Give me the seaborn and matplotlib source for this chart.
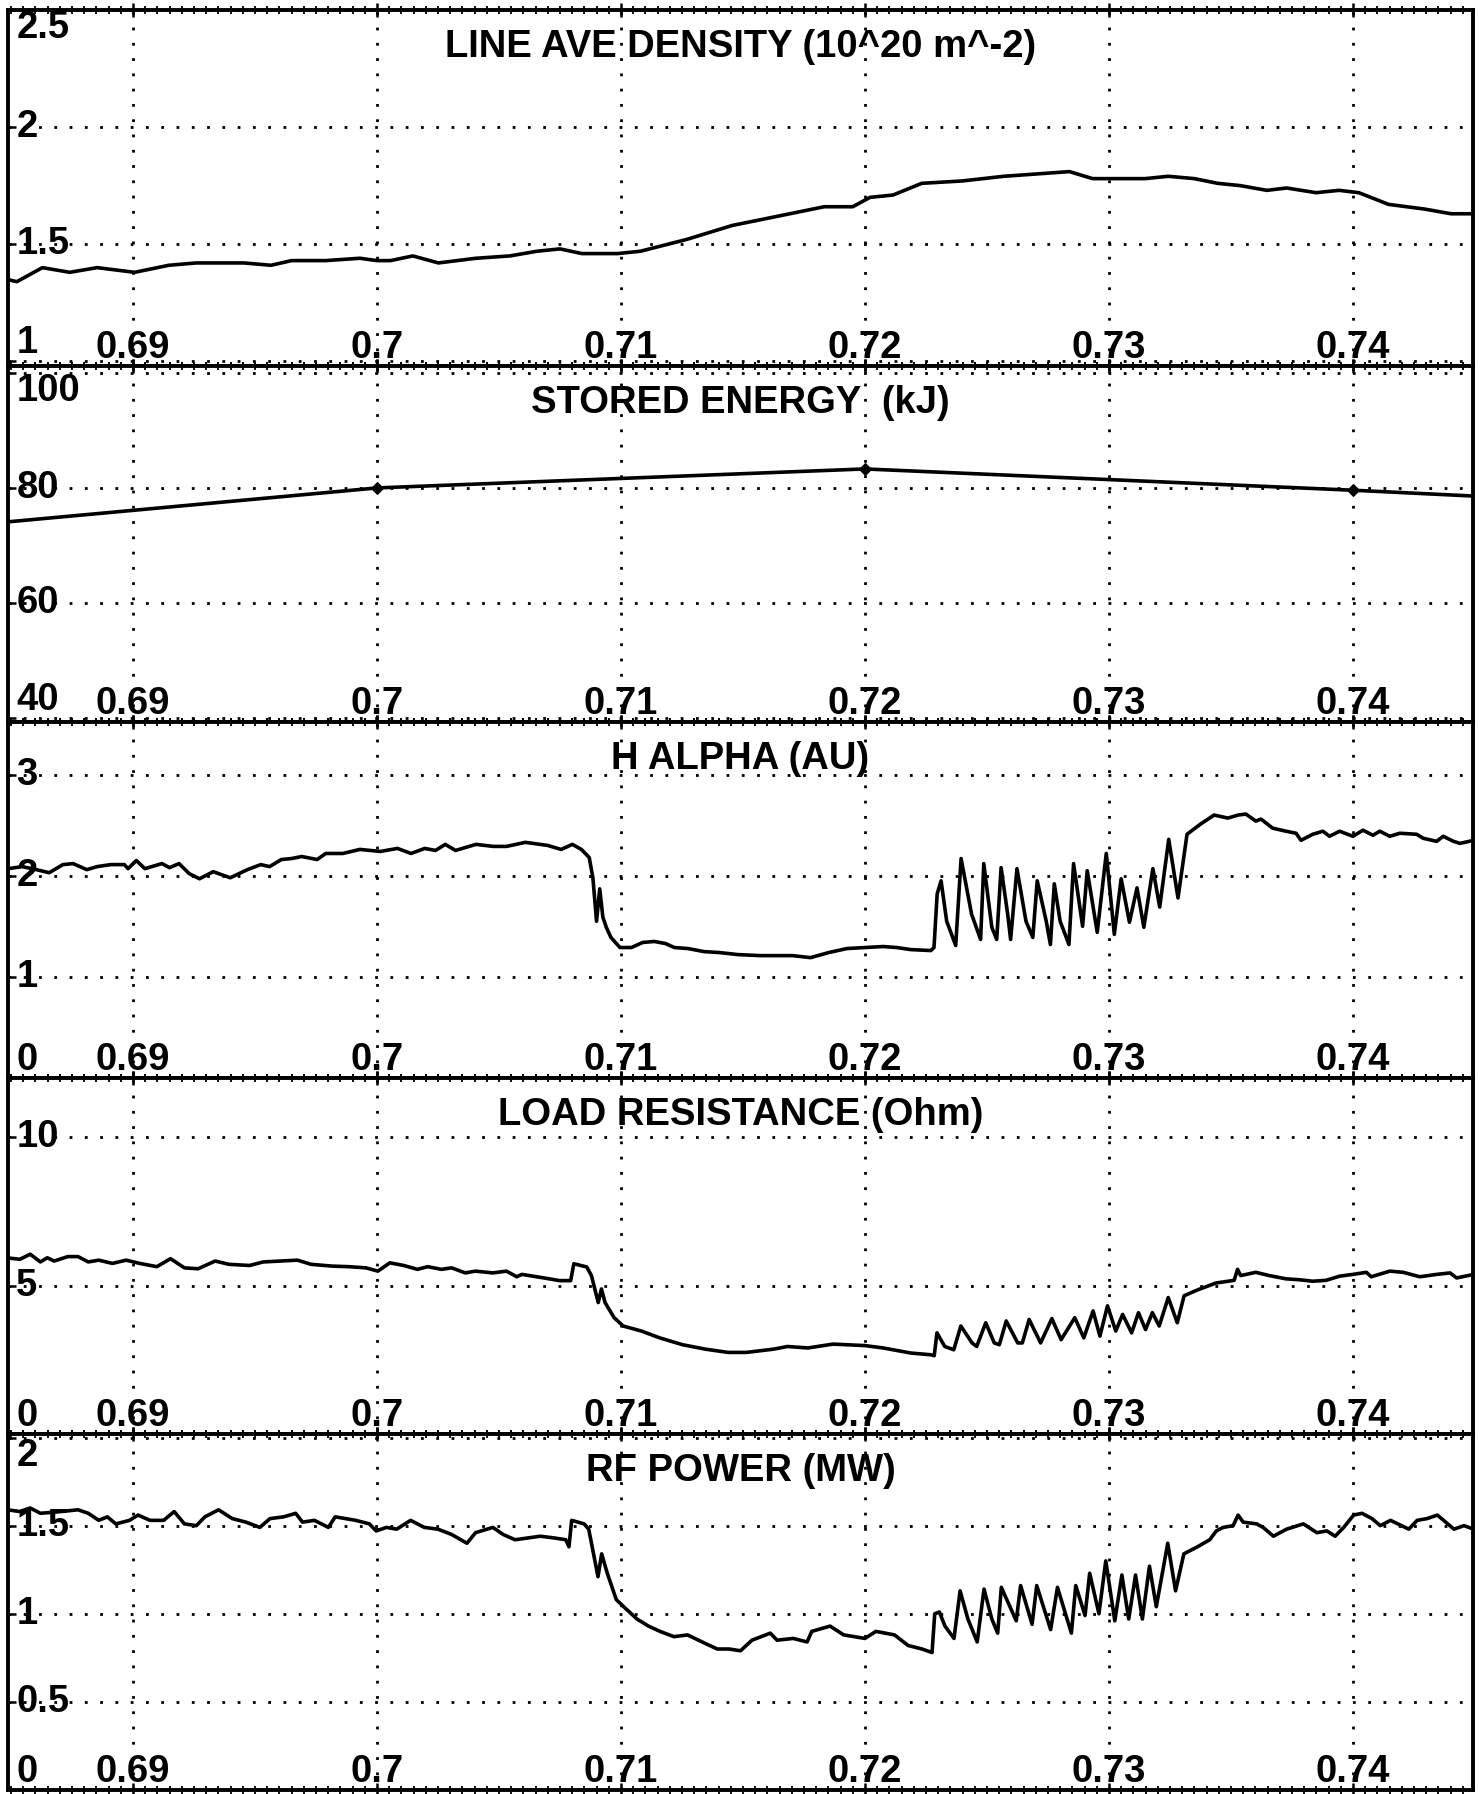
import matplotlib
matplotlib.use("Agg")
import matplotlib.pyplot as plt
import numpy as np
import pandas as pd
import seaborn as sns
from matplotlib.ticker import MultipleLocator

# ---------------- data ----------------
x_ticks = [0.69, 0.70, 0.71, 0.72, 0.73, 0.74]
x_tick_labels = ["0.69", "0.7", "0.71", "0.72", "0.73", "0.74"]

density_t = [0.68483, 0.68524, 0.68629, 0.68741, 0.68853, 0.69007, 0.69147, 0.69259,
             0.69455, 0.69566, 0.69650, 0.69790, 0.69930, 0.70000, 0.70056, 0.70147,
             0.70252, 0.70406, 0.70545, 0.70656, 0.70750, 0.70840, 0.70986, 0.71080,
             0.71268, 0.71456, 0.71645, 0.71833, 0.71950, 0.72021, 0.72115, 0.72233,
             0.72398, 0.72569, 0.72704, 0.72838, 0.72933, 0.73013, 0.73148, 0.73243,
             0.73350, 0.73445, 0.73539, 0.73647, 0.73728, 0.73849, 0.73943, 0.74024,
             0.74146, 0.74294, 0.74402, 0.74495]
density_v = [1.35, 1.34, 1.40, 1.38, 1.40, 1.38, 1.41, 1.42,
             1.42, 1.41, 1.43, 1.43, 1.44, 1.43, 1.43, 1.45,
             1.42, 1.44, 1.45, 1.47, 1.48, 1.46, 1.46, 1.47,
             1.52, 1.58, 1.62, 1.66, 1.66, 1.70, 1.71, 1.76,
             1.77, 1.79, 1.80, 1.81, 1.78, 1.78, 1.78, 1.79,
             1.78, 1.76, 1.75, 1.73, 1.74, 1.72, 1.73, 1.72,
             1.67, 1.65, 1.63, 1.63]

energy_t = [0.68, 0.70, 0.72, 0.74, 0.76]
energy_v = [72.2, 80.0, 83.3, 79.6, 75.5]

halpha_t = [0.68490, 0.68545, 0.68587, 0.68657, 0.68713, 0.68755, 0.68811, 0.68853,
            0.68909, 0.68965, 0.68980, 0.69014, 0.69049, 0.69119, 0.69150, 0.69189,
            0.69231, 0.69273, 0.69329, 0.69399, 0.69469, 0.69524, 0.69560, 0.69608,
            0.69650, 0.69692, 0.69755, 0.69790, 0.69860, 0.69930, 0.69970, 0.70014,
            0.70084, 0.70140, 0.70196, 0.70240, 0.70280, 0.70322, 0.70406, 0.70476,
            0.70531, 0.70608, 0.70699, 0.70755, 0.70801, 0.70838, 0.70870, 0.70885,
            0.70900, 0.70913, 0.70926, 0.70940, 0.70959, 0.70996, 0.71043, 0.71089,
            0.71136, 0.71182, 0.71219, 0.71275, 0.71340, 0.71405, 0.71480, 0.71572,
            0.71703, 0.71777, 0.71851, 0.71926, 0.72000, 0.72074, 0.72130, 0.72186,
            0.72270, 0.72283, 0.72296, 0.72312, 0.72335, 0.72372, 0.72394, 0.72437,
            0.72474, 0.72487, 0.72520, 0.72540, 0.72558, 0.72585, 0.72597, 0.72623,
            0.72660, 0.72688, 0.72706, 0.72743, 0.72760, 0.72776, 0.72800, 0.72836,
            0.72855, 0.72892, 0.72911, 0.72952, 0.72989, 0.73022, 0.73050, 0.73084,
            0.73115, 0.73143, 0.73180, 0.73208, 0.73245, 0.73283, 0.73320, 0.73375,
            0.73431, 0.73487, 0.73530, 0.73561, 0.73602, 0.73623, 0.73671, 0.73726,
            0.73767, 0.73787, 0.73835, 0.73877, 0.73904, 0.73945, 0.74000, 0.74041,
            0.74082, 0.74110, 0.74151, 0.74192, 0.74261, 0.74288, 0.74343, 0.74370,
            0.74412, 0.74439, 0.74495]
halpha_v = [2.07, 2.09, 2.07, 2.03, 2.11, 2.12, 2.06, 2.09,
            2.11, 2.11, 2.07, 2.15, 2.07, 2.12, 2.08, 2.12,
            2.02, 1.97, 2.04, 1.98, 2.06, 2.11, 2.09, 2.16,
            2.17, 2.19, 2.16, 2.22, 2.22, 2.26, 2.25, 2.24,
            2.27, 2.22, 2.27, 2.25, 2.31, 2.25, 2.31, 2.29,
            2.29, 2.33, 2.30, 2.26, 2.31, 2.26, 2.18, 1.98,
            1.55, 1.87, 1.59, 1.49, 1.39, 1.29, 1.29, 1.34,
            1.35, 1.33, 1.29, 1.28, 1.25, 1.24, 1.22, 1.21,
            1.21, 1.19, 1.24, 1.28, 1.29, 1.30, 1.29, 1.27,
            1.26, 1.29, 1.82, 1.95, 1.55, 1.31, 2.17, 1.62,
            1.37, 2.12, 1.49, 1.37, 2.08, 1.62, 1.37, 2.07,
            1.55, 1.39, 1.95, 1.55, 1.32, 1.92, 1.55, 1.32,
            2.12, 1.50, 2.05, 1.44, 2.22, 1.42, 1.97, 1.54,
            1.88, 1.49, 2.07, 1.69, 2.36, 1.78, 2.41, 2.51,
            2.60, 2.57, 2.60, 2.61, 2.54, 2.56, 2.47, 2.44,
            2.42, 2.35, 2.41, 2.44, 2.39, 2.44, 2.39, 2.45,
            2.40, 2.44, 2.39, 2.42, 2.41, 2.37, 2.34, 2.39,
            2.34, 2.32, 2.35]

load_t = [0.68480, 0.68537, 0.68579, 0.68621, 0.68649, 0.68677, 0.68733, 0.68775,
          0.68817, 0.68860, 0.68916, 0.68972, 0.69028, 0.69098, 0.69154, 0.69211,
          0.69267, 0.69337, 0.69393, 0.69478, 0.69534, 0.69604, 0.69674, 0.69730,
          0.69815, 0.69885, 0.69955, 0.70004, 0.70053, 0.70110, 0.70166, 0.70208,
          0.70264, 0.70306, 0.70362, 0.70404, 0.70475, 0.70531, 0.70573, 0.70594,
          0.70692, 0.70748, 0.70794, 0.70807, 0.70860, 0.70879, 0.70907, 0.70920,
          0.70935, 0.70972, 0.71009, 0.71084, 0.71159, 0.71252, 0.71346, 0.71439,
          0.71514, 0.71626, 0.71682, 0.71766, 0.71869, 0.72000, 0.72075, 0.72187,
          0.72271, 0.72284, 0.72295, 0.72327, 0.72364, 0.72393, 0.72439, 0.72458,
          0.72495, 0.72530, 0.72551, 0.72579, 0.72626, 0.72645, 0.72673, 0.72720,
          0.72766, 0.72804, 0.72860, 0.72897, 0.72935, 0.72963, 0.72994, 0.73028,
          0.73056, 0.73093, 0.73121, 0.73150, 0.73178, 0.73206, 0.73243, 0.73280,
          0.73308, 0.73364, 0.73439, 0.73513, 0.73527, 0.73540, 0.73602, 0.73657,
          0.73726, 0.73780, 0.73835, 0.73890, 0.73945, 0.74000, 0.74055, 0.74075,
          0.74151, 0.74206, 0.74274, 0.74343, 0.74398, 0.74425, 0.74495]
load_v = [5.94, 5.89, 6.06, 5.80, 5.94, 5.83, 5.98, 5.98,
          5.80, 5.86, 5.75, 5.86, 5.75, 5.64, 5.91, 5.60,
          5.57, 5.83, 5.72, 5.68, 5.80, 5.83, 5.86, 5.72,
          5.66, 5.64, 5.60, 5.49, 5.77, 5.68, 5.55, 5.64,
          5.55, 5.60, 5.43, 5.49, 5.43, 5.49, 5.30, 5.38,
          5.25, 5.17, 5.17, 5.74, 5.63, 5.34, 4.43, 4.89,
          4.43, 3.92, 3.64, 3.47, 3.24, 3.01, 2.86, 2.75,
          2.75, 2.86, 2.95, 2.90, 3.03, 2.98, 2.90, 2.73,
          2.67, 2.64, 3.41, 2.95, 2.84, 3.64, 3.07, 2.95,
          3.75, 3.07, 3.01, 3.81, 3.07, 3.07, 3.86, 3.07,
          3.89, 3.18, 3.92, 3.24, 4.15, 3.30, 4.32, 3.47,
          4.03, 3.41, 4.09, 3.52, 4.09, 3.64, 4.60, 3.75,
          4.66, 4.86, 5.09, 5.18, 5.55, 5.34, 5.45, 5.34,
          5.23, 5.20, 5.15, 5.18, 5.32, 5.38, 5.45, 5.30,
          5.49, 5.45, 5.30, 5.38, 5.43, 5.26, 5.38]

rf_t = [0.68487, 0.68536, 0.68579, 0.68621, 0.68705, 0.68775, 0.68817, 0.68860,
        0.68895, 0.68930, 0.68986, 0.69021, 0.69070, 0.69126, 0.69169, 0.69211,
        0.69260, 0.69295, 0.69351, 0.69407, 0.69463, 0.69520, 0.69562, 0.69618,
        0.69667, 0.69695, 0.69744, 0.69801, 0.69829, 0.69871, 0.69913, 0.69969,
        0.69997, 0.70039, 0.70081, 0.70138, 0.70194, 0.70250, 0.70306, 0.70369,
        0.70404, 0.70475, 0.70517, 0.70566, 0.70670, 0.70727, 0.70774, 0.70787,
        0.70798, 0.70849, 0.70868, 0.70906, 0.70921, 0.70944, 0.70981, 0.71019,
        0.71066, 0.71113, 0.71160, 0.71217, 0.71273, 0.71348, 0.71395, 0.71443,
        0.71490, 0.71537, 0.71612, 0.71640, 0.71706, 0.71763, 0.71782, 0.71857,
        0.71913, 0.72000, 0.72045, 0.72121, 0.72177, 0.72234, 0.72275, 0.72286,
        0.72305, 0.72328, 0.72365, 0.72390, 0.72422, 0.72460, 0.72488, 0.72520,
        0.72544, 0.72559, 0.72620, 0.72638, 0.72685, 0.72704, 0.72761, 0.72789,
        0.72846, 0.72864, 0.72902, 0.72921, 0.72959, 0.72987, 0.73024, 0.73053,
        0.73081, 0.73109, 0.73137, 0.73166, 0.73194, 0.73241, 0.73273, 0.73307,
        0.73363, 0.73413, 0.73440, 0.73468, 0.73509, 0.73529, 0.73550, 0.73605,
        0.73632, 0.73674, 0.73728, 0.73797, 0.73852, 0.73893, 0.73927, 0.73962,
        0.74003, 0.74037, 0.74078, 0.74112, 0.74154, 0.74229, 0.74263, 0.74304,
        0.74346, 0.74414, 0.74455, 0.74495]
rf_v = [1.59, 1.58, 1.60, 1.57, 1.58, 1.59, 1.57, 1.53,
        1.55, 1.51, 1.53, 1.56, 1.53, 1.53, 1.58, 1.51,
        1.50, 1.55, 1.59, 1.54, 1.52, 1.49, 1.54, 1.55,
        1.57, 1.52, 1.53, 1.49, 1.55, 1.54, 1.53, 1.51,
        1.47, 1.49, 1.48, 1.53, 1.49, 1.48, 1.45, 1.40,
        1.46, 1.49, 1.45, 1.42, 1.44, 1.43, 1.42, 1.38,
        1.53, 1.51, 1.48, 1.21, 1.34, 1.23, 1.08, 1.03,
        0.97, 0.93, 0.90, 0.87, 0.88, 0.83, 0.80, 0.80,
        0.79, 0.85, 0.89, 0.85, 0.86, 0.84, 0.90, 0.93,
        0.88, 0.86, 0.90, 0.88, 0.82, 0.80, 0.78, 1.00,
        1.01, 0.93, 0.86, 1.13, 0.97, 0.84, 1.14, 0.97,
        0.89, 1.15, 0.96, 1.16, 0.94, 1.16, 0.91, 1.15,
        0.89, 1.16, 0.99, 1.23, 1.00, 1.30, 0.96, 1.22,
        0.97, 1.22, 0.97, 1.27, 1.04, 1.40, 1.13, 1.34,
        1.38, 1.42, 1.47, 1.49, 1.50, 1.56, 1.52, 1.51,
        1.49, 1.44, 1.48, 1.51, 1.46, 1.47, 1.44, 1.49,
        1.56, 1.57, 1.54, 1.50, 1.53, 1.48, 1.53, 1.54,
        1.56, 1.48, 1.50, 1.48]

titles = ["LINE AVE DENSITY (10^20 m^-2)", "STORED ENERGY  (kJ)", "H ALPHA (AU)",
          "LOAD RESISTANCE (Ohm)", "RF POWER (MW)"]
y_ticks = [[1, 1.5, 2, 2.5], [40, 60, 80, 100], [0, 1, 2, 3], [0, 5, 10], [0, 0.5, 1, 1.5, 2]]
y_tick_labels = [["1", "1.5", "2", "2.5"], ["40", "60", "80", "100"], ["0", "1", "2", "3"],
                 ["0", "5", "10"], ["0", "0.5", "1", "1.5", "2"]]
y_limits = [(0.98, 2.5), (39.3, 101.2), (0.0, 3.52), (0.0, 12.0), (0.0, 2.02)]

series = [(density_t, density_v), (energy_t, energy_v), (halpha_t, halpha_v),
          (load_t, load_v), (rf_t, rf_v)]

# ---------------- style ----------------
sns.set_theme(style="white")
plt.rcParams["font.family"] = ["Liberation Sans", "DejaVu Sans"]
plt.rcParams["font.weight"] = "bold"

W, H = 1483, 1794
fig = plt.figure(figsize=(W / 100, H / 100), dpi=100)
fig.patch.set_facecolor("white")

left_px, right_px = 8, 1473
top_px, panel_px = 10, 356
FS = 27.5
LW = 2.6
x_limits = (0.68488, 0.74492)

for i, ((t, v), title) in enumerate(zip(series, titles)):
    y_top = top_px + i * panel_px
    ax = fig.add_axes([left_px / W, 1 - (y_top + panel_px) / H,
                       (right_px - left_px) / W, panel_px / H])
    ax.set_facecolor("white")
    df = pd.DataFrame({"t": t, "v": v})
    if i == 1:
        sns.lineplot(data=df, x="t", y="v", ax=ax, color="black", linewidth=LW,
                     estimator=None, sort=False, marker="D", markersize=6,
                     markeredgecolor="black")
    else:
        sns.lineplot(data=df, x="t", y="v", ax=ax, color="black", linewidth=LW,
                     estimator=None, sort=False)

    ax.set_xlim(*x_limits)
    ax.set_ylim(*y_limits[i])
    ax.set_xlabel("")
    ax.set_ylabel("")

    ax.set_xticks(x_ticks)
    ax.set_xticklabels(x_tick_labels)
    ax.xaxis.set_minor_locator(MultipleLocator(0.0005))
    ax.set_yticks(y_ticks[i])
    ax.set_yticklabels(y_tick_labels[i])

    ax.grid(True, which="major", color="black", linestyle=(0, (1, 4.5)), linewidth=2.0)
    ax.grid(False, which="minor")

    ax.tick_params(axis="x", which="major", direction="inout", length=10, width=1.8,
                   top=True, bottom=True, pad=-5, labelsize=FS, colors="black")
    ax.tick_params(axis="x", which="minor", direction="inout", length=6, width=1.3,
                   top=True, bottom=True, colors="black")
    ax.tick_params(axis="y", which="major", direction="in", length=6, width=1.8,
                   left=True, pad=-6, labelsize=FS, colors="black")

    for lab in ax.get_xticklabels():
        lab.set_verticalalignment("bottom")
        lab.set_fontweight("bold")
    ylo, yhi = y_limits[i]
    for val, lab in zip(y_ticks[i], ax.get_yticklabels()):
        lab.set_horizontalalignment("left")
        lab.set_fontweight("bold")
        if abs(val - ylo) < 0.05 * (yhi - ylo):
            lab.set_verticalalignment("bottom")
        elif abs(val - yhi) < 0.05 * (yhi - ylo):
            lab.set_verticalalignment("top")
        else:
            lab.set_verticalalignment("center")

    for side in ["left", "right", "top", "bottom"]:
        ax.spines[side].set_visible(True)
        ax.spines[side].set_color("black")
        ax.spines[side].set_linewidth(2.8)

    ax.text(0.5, 1 - 19 / panel_px, title, transform=ax.transAxes, ha="center", va="top",
            fontsize=FS, fontweight="bold", color="black")

fig.savefig("out.png", dpi=100, facecolor="white")
